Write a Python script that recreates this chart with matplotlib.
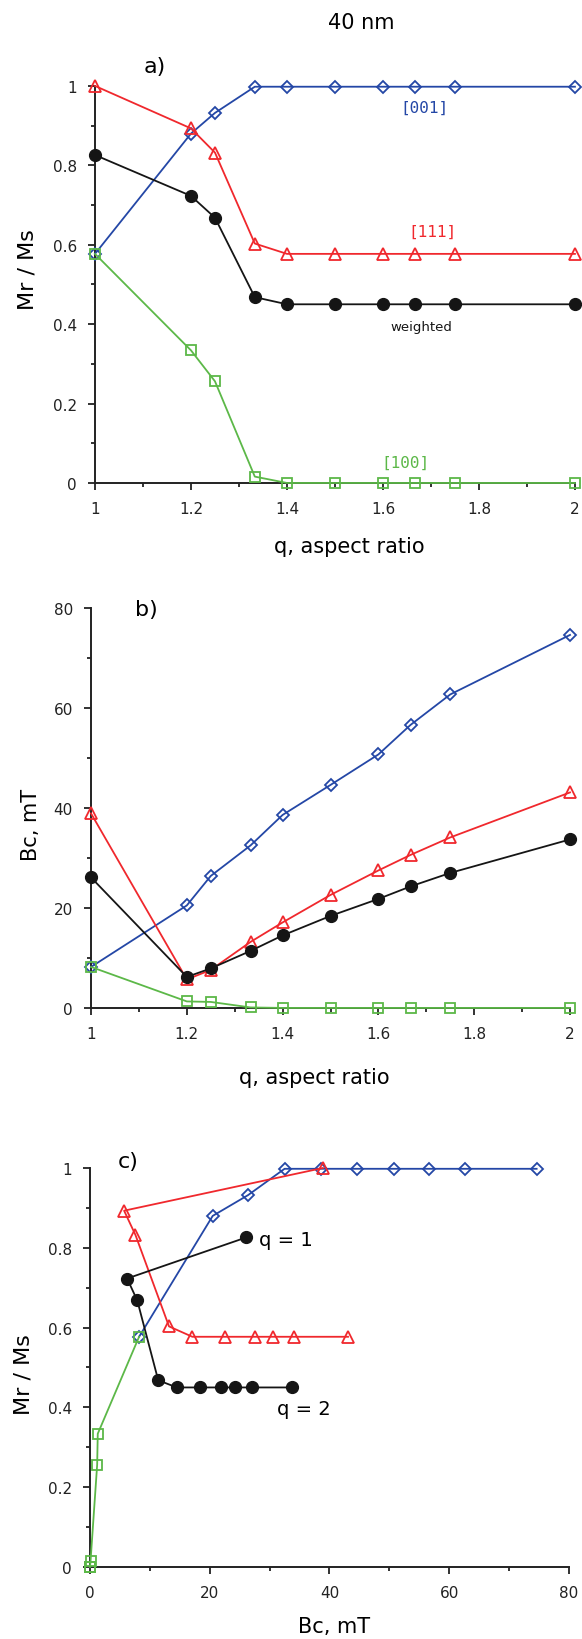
import matplotlib
matplotlib.use("Agg")
import matplotlib.pyplot as plt
from matplotlib.ticker import MultipleLocator, FuncFormatter

# aspect ratio q
q = [1, 1.2, 1.25, 1.333, 1.4, 1.5, 1.6, 1.667, 1.75, 2]

# Mr/Ms for each easy axis and the weighted average
mr_001 = [0.577, 0.88, 0.932, 0.998, 0.998, 0.998, 0.998, 0.998, 0.998, 0.998]
mr_111 = [1.0, 0.893, 0.832, 0.603, 0.577, 0.577, 0.577, 0.577, 0.577, 0.577]
mr_wtd = [0.826, 0.723, 0.668, 0.468, 0.45, 0.45, 0.45, 0.45, 0.45, 0.45]
mr_100 = [0.577, 0.334, 0.256, 0.016, 0.0, 0.0, 0.0, 0.0, 0.0, 0.0]

# Bc in mT
bc_001 = [8.2, 20.5, 26.4, 32.5, 38.6, 44.6, 50.7, 56.6, 62.7, 74.6]
bc_111 = [38.9, 5.7, 7.6, 13.2, 17.1, 22.6, 27.5, 30.6, 34.1, 43.1]
bc_wtd = [26.1, 6.2, 7.9, 11.4, 14.5, 18.4, 21.8, 24.3, 27.0, 33.7]
bc_100 = [8.2, 1.3, 1.2, 0.1, 0.0, 0.0, 0.0, 0.0, 0.0, 0.0]

BLUE = '#2447a6'
RED = '#f0282d'
GREEN = '#5cb848'
BLACK = '#151515'

fig = plt.figure(figsize=(5.82, 16.4), dpi=100)

ax_a = fig.add_axes([0.1632, 0.7049, 0.8247, 0.2421])
ax_b = fig.add_axes([0.1564, 0.3848, 0.8230, 0.2439])
ax_c = fig.add_axes([0.1546, 0.0439, 0.8230, 0.2433])


def draw(ax, xs):
    x001, x111, xw, x100 = xs
    ax.plot(x001[0], x001[1], color=BLUE, lw=1.3, marker='D', ms=6.5,
            mfc='none', mec=BLUE, mew=1.3, clip_on=False, zorder=3)
    ax.plot(x111[0], x111[1], color=RED, lw=1.3, marker='^', ms=8.5,
            mfc='none', mec=RED, mew=1.3, clip_on=False, zorder=3)
    ax.plot(xw[0], xw[1], color=BLACK, lw=1.3, marker='o', ms=8.5,
            mfc=BLACK, mec=BLACK, clip_on=False, zorder=4)
    ax.plot(x100[0], x100[1], color=GREEN, lw=1.3, marker='s', ms=7,
            mfc='none', mec=GREEN, mew=1.3, clip_on=False, zorder=5)


def style(ax, xmaj, xmin, ymaj, ymin):
    for s in ['top', 'right']:
        ax.spines[s].set_visible(False)
    for s in ['left', 'bottom']:
        ax.spines[s].set_linewidth(1.4)
        ax.spines[s].set_color('#222222')
    ax.xaxis.set_major_locator(MultipleLocator(xmaj))
    ax.xaxis.set_minor_locator(MultipleLocator(xmin))
    ax.yaxis.set_major_locator(MultipleLocator(ymaj))
    ax.yaxis.set_minor_locator(MultipleLocator(ymin))
    fmt = FuncFormatter(lambda v, p: '%g' % round(v, 3))
    ax.xaxis.set_major_formatter(fmt)
    ax.yaxis.set_major_formatter(fmt)
    ax.tick_params(which='major', direction='out', length=5, width=1.3,
                   labelsize=11, colors='#222222', pad=8)
    ax.tick_params(which='minor', direction='out', length=3, width=1.3,
                   colors='#222222')


# a) Mr/Ms vs q
draw(ax_a, [(q, mr_001), (q, mr_111), (q, mr_wtd), (q, mr_100)])
ax_a.set_xlim(1, 2)
ax_a.set_ylim(0, 1)
style(ax_a, 0.2, 0.1, 0.2, 0.1)
ax_a.text(0.687, 0.947, '[001]', color=BLUE, fontsize=11.5, family='DejaVu Sans Mono',
          ha='center', va='center', transform=ax_a.transAxes)
ax_a.text(0.704, 0.635, '[111]', color=RED, fontsize=11.5, family='DejaVu Sans Mono',
          ha='center', va='center', transform=ax_a.transAxes)
ax_a.text(0.680, 0.393, 'weighted', color=BLACK, fontsize=9.5,
          ha='center', va='center', transform=ax_a.transAxes)
ax_a.text(0.646, 0.051, '[100]', color=GREEN, fontsize=11.5, family='DejaVu Sans Mono',
          ha='center', va='center', transform=ax_a.transAxes)
ax_a.text(0.125, 1.05, 'a)', fontsize=16, ha='center', va='center',
          transform=ax_a.transAxes)
ax_a.text(0.53, -0.159, 'q, aspect ratio', fontsize=15, ha='center', va='center',
          transform=ax_a.transAxes)
ax_a.text(-0.14, 0.54, 'Mr / Ms', fontsize=16, rotation=90, ha='center', va='center',
          transform=ax_a.transAxes)

# b) Bc vs q
draw(ax_b, [(q, bc_001), (q, bc_111), (q, bc_wtd), (q, bc_100)])
ax_b.set_xlim(1, 2)
ax_b.set_ylim(0, 80)
style(ax_b, 0.2, 0.1, 20, 10)
ax_b.text(0.116, 0.998, 'b)', fontsize=16, ha='center', va='center',
          transform=ax_b.transAxes)
ax_b.text(0.466, -0.1725, 'q, aspect ratio', fontsize=15, ha='center', va='center',
          transform=ax_b.transAxes)
ax_b.text(-0.125, 0.46, 'Bc, mT', fontsize=15, rotation=90, ha='center', va='center',
          transform=ax_b.transAxes)

# c) Mr/Ms vs Bc
draw(ax_c, [(bc_001, mr_001), (bc_111, mr_111), (bc_wtd, mr_wtd), (bc_100, mr_100)])
ax_c.set_xlim(0, 80)
ax_c.set_ylim(0, 1)
style(ax_c, 20, 10, 0.2, 0.1)
ax_c.text(0.079, 1.0175, 'c)', fontsize=16, ha='center', va='center',
          transform=ax_c.transAxes)
ax_c.text(32.7, 0.821, 'q = 1', fontsize=14, ha='center', va='center')
ax_c.text(35.8, 0.396, 'q = 2', fontsize=14, ha='center', va='center')
ax_c.text(0.51, -0.147, 'Bc, mT', fontsize=15, ha='center', va='center',
          transform=ax_c.transAxes)
ax_c.text(-0.138, 0.484, 'Mr / Ms', fontsize=16, rotation=90, ha='center', va='center',
          transform=ax_c.transAxes)

fig.text(0.62, 0.986, '40 nm', fontsize=15, ha='center', va='center')

fig.savefig('out.png', dpi=100)
